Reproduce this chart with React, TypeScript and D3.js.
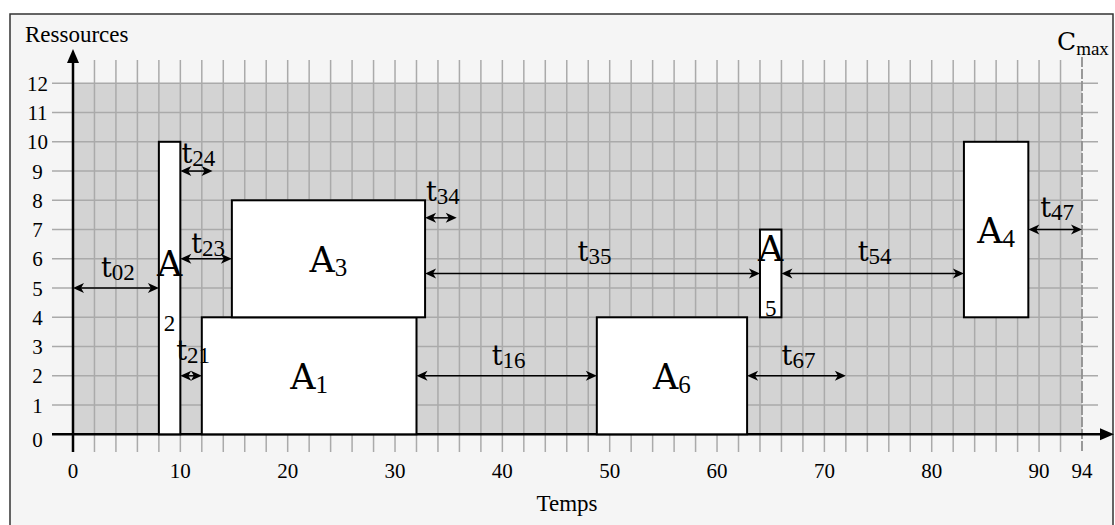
import React from "react";
import * as d3 from "d3";

// ---- data ----
const xTicks = [0, 10, 20, 30, 40, 50, 60, 70, 80, 90, 94];
const yTicks = [0, 1, 2, 3, 4, 5, 6, 7, 8, 9, 10, 11, 12];
const cmax = 94;
const maxRes = 12;

const actNames = ["1", "2", "3", "4", "5", "6"];
const actStart = [12, 8, 14.8, 83, 64, 48.8];
const actEnd = [32, 10, 32.8, 89, 66, 62.8];
const actLow = [0, 0, 4, 4, 4, 0];
const actHigh = [4, 10, 8, 10, 7, 4];

const gapNames = ["02", "24", "23", "21", "34", "35", "54", "16", "67", "47"];
const gapStart = [0, 10, 10, 10, 32.8, 32.8, 66, 32, 62.8, 89];
const gapEnd = [8, 13, 14.8, 12, 35.75, 64, 83, 48.8, 72, 94];
const gapLevel = [5, 9, 6, 2, 7.4, 5.5, 5.5, 2, 2, 7];

// ---- layout ----
const W = 1115;
const H = 525;
const x = d3.scaleLinear().domain([0, cmax]).range([73, 1082]);
const y = d3.scaleLinear().domain([0, maxRes]).range([434.3, 83.3]);
const gridTop = 60;
const gridBottom = 452;
const gridLeft = 52;
const gridRight = 1098;
const labelLift = [11.5, 8, 6, 16, 17, 12, 12, 11, 11, 13];

const SERIF = "'Liberation Serif', 'Times New Roman', serif";
const MATH = "'DejaVu Serif', serif";

function Arrow({ x1, x2, yy }: { x1: number; x2: number; yy: number }) {
  const L = 11;
  const hw = 5;
  return (
    <g>
      <line x1={x1 + 4} x2={x2 - 4} y1={yy} y2={yy} stroke="#000" strokeWidth={1.5} />
      <polygon points={`${x1},${yy} ${x1 + L},${yy - hw} ${x1 + L - 3},${yy} ${x1 + L},${yy + hw}`} fill="#000" />
      <polygon points={`${x2},${yy} ${x2 - L},${yy - hw} ${x2 - L + 3},${yy} ${x2 - L},${yy + hw}`} fill="#000" />
    </g>
  );
}

export default function App() {
  const vLines = d3.range(2, cmax, 2);
  const hLines = d3.range(1, maxRes + 1, 1);
  return (
    <svg
      width={W}
      height={H}
      style={{ position: "absolute", left: 0, top: 0, background: "#fff" }}
    >
      {/* frame */}
      <rect x={10} y={14} width={1103} height={530} fill="#f5f5f5" stroke="#333" strokeWidth={1.5} />
      {/* gray area */}
      <rect x={x(0)} y={y(maxRes)} width={x(cmax) - x(0)} height={y(0) - y(maxRes)} fill="#d3d3d3" />
      {/* grid */}
      {vLines.map((v) => (
        <line key={"v" + v} x1={x(v)} x2={x(v)} y1={gridTop} y2={gridBottom} stroke="#aaa" strokeWidth={1.5} />
      ))}
      {hLines.map((v) => (
        <line key={"h" + v} x1={gridLeft} x2={gridRight} y1={y(v)} y2={y(v)} stroke="#aaa" strokeWidth={1.5} />
      ))}
      {/* Cmax dashed line */}
      <line x1={x(cmax)} x2={x(cmax)} y1={57} y2={gridBottom} stroke="#8f8f8f" strokeWidth={1.8} strokeDasharray="10 2" />
      {/* axes */}
      <line x1={gridLeft} x2={1104} y1={y(0)} y2={y(0)} stroke="#000" strokeWidth={2.5} />
      <polygon points={`1114,${y(0)} 1100,${y(0) - 6} 1100,${y(0) + 6}`} fill="#000" />
      <line x1={x(0)} x2={x(0)} y1={gridBottom} y2={60} stroke="#000" strokeWidth={2.5} />
      <polygon points={`${x(0)},49 ${x(0) - 6},63 ${x(0) + 6},63`} fill="#000" />

      {/* tick labels */}
      {yTicks.map((v) => (
        <text key={"yt" + v} x={37.5} y={y(v) + 7.5 + (v === 0 ? 5 : 0)} textAnchor="middle" fontFamily={SERIF} fontSize={21}>
          {v}
        </text>
      ))}
      {xTicks.map((v) => (
        <text key={"xt" + v} x={x(v)} y={477.5} textAnchor="middle" fontFamily={SERIF} fontSize={21}>
          {v}
        </text>
      ))}
      <text x={25} y={42} fontFamily={SERIF} fontSize={23}>Ressources</text>
      <text x={567} y={511} textAnchor="middle" fontFamily={SERIF} fontSize={23}>Temps</text>
      <text x={1057} y={50} fontFamily={MATH} fontSize={25}>
        C<tspan fontFamily={SERIF} fontSize={19} dy={5}>max</tspan>
      </text>

      {/* activities */}
      {actNames.map((n, i) => {
        const x0 = x(actStart[i]);
        const x1 = x(actEnd[i]);
        const y0 = y(actHigh[i]);
        const y1 = y(actLow[i]);
        const cx = (x0 + x1) / 2;
        const cy = (y0 + y1) / 2;
        return (
          <rect key={"a" + n} x={x0} y={y0} width={x1 - x0} height={y1 - y0} fill="#fff" stroke="#000" strokeWidth={2} />
        );
      })}
      {actNames.map((n, i) => {
        const x0 = x(actStart[i]);
        const x1 = x(actEnd[i]);
        const y0 = y(actHigh[i]);
        const y1 = y(actLow[i]);
        const cx = (x0 + x1) / 2;
        const cy = (y0 + y1) / 2;
        const narrow = actEnd[i] - actStart[i] < 3;
        if (narrow) {
          return (
            <g key={"al" + n}>
              <text x={cx} y={cy - 12} textAnchor="middle" fontFamily={MATH} fontSize={35}>A</text>
              <text x={cx} y={cy + 43} textAnchor="middle" fontFamily={SERIF} fontSize={23}>{n}</text>
            </g>
          );
        }
        return (
          <text key={"al" + n} x={cx} y={cy + 13.5} textAnchor="middle" fontFamily={MATH} fontSize={35}>
            A<tspan fontFamily={SERIF} fontSize={25} dy={4}>{n}</tspan>
          </text>
        );
      })}

      {/* gaps */}
      {gapNames.map((n, i) => {
        const x0 = x(gapStart[i]);
        const x1 = x(gapEnd[i]);
        const yy = y(gapLevel[i]);
        return (
          <g key={"g" + n}>
            <Arrow x1={x0} x2={x1} yy={yy} />
            <text x={(x0 + x1) / 2 + 2} y={yy - labelLift[i]} textAnchor="middle" fontFamily={MATH} fontSize={27}>
              t<tspan fontFamily={SERIF} fontSize={23} dy={3}>{n}</tspan>
            </text>
          </g>
        );
      })}
    </svg>
  );
}
